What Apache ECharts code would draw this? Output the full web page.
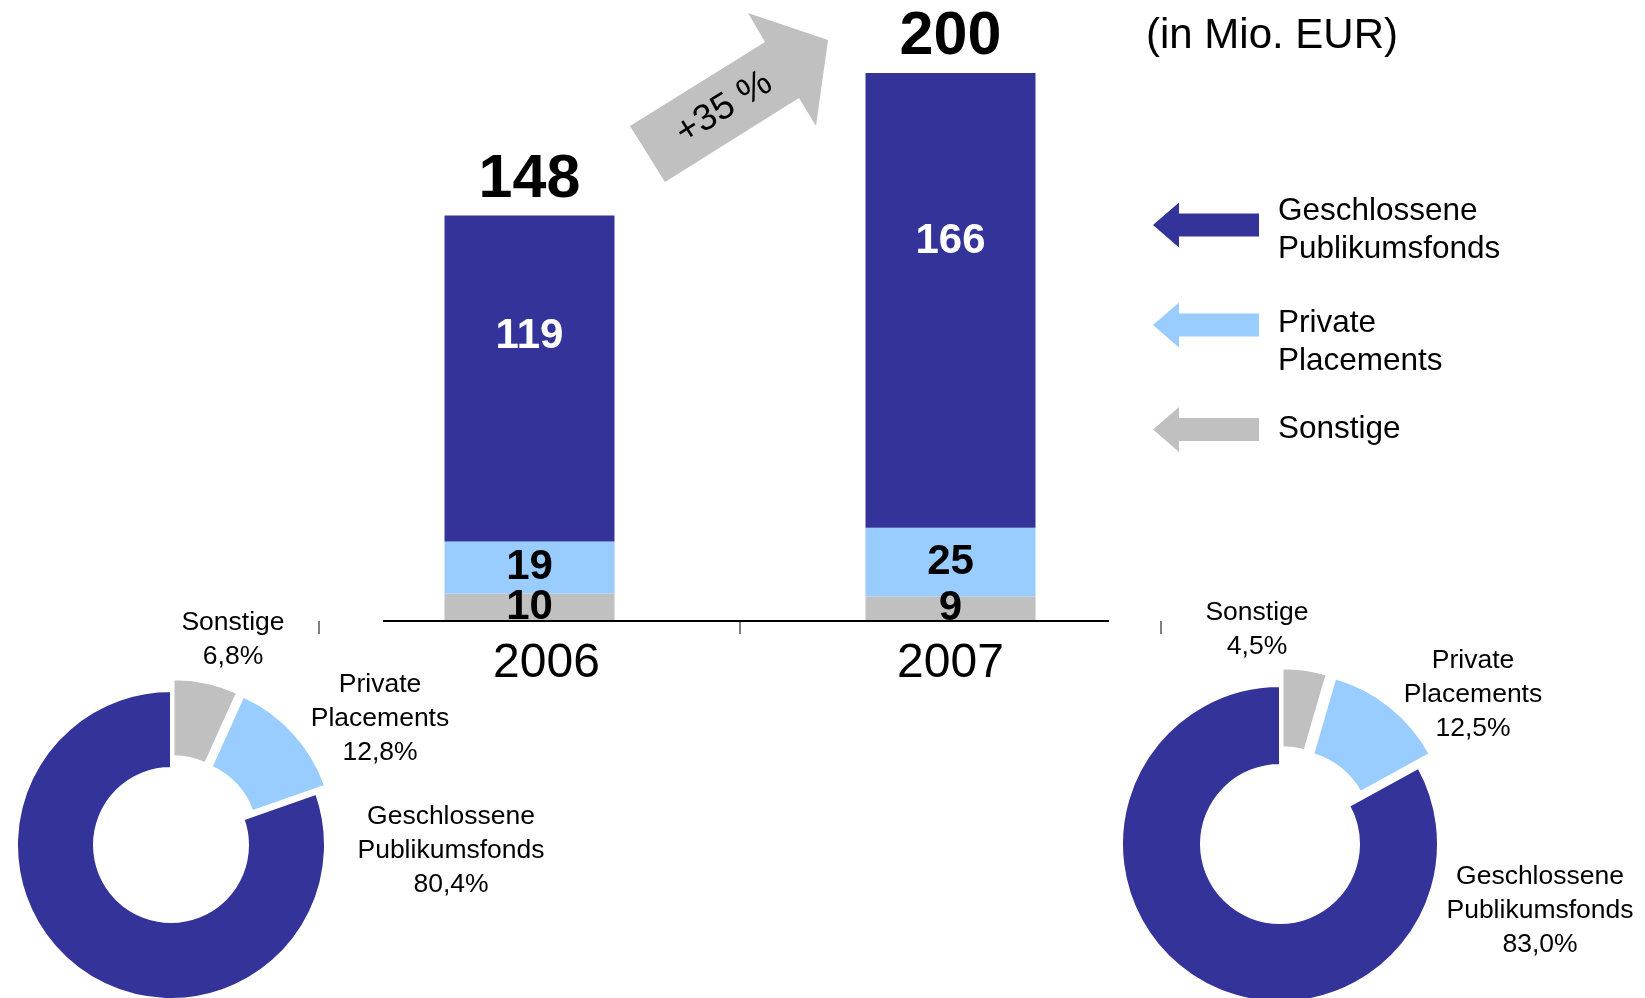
<!DOCTYPE html>
<html>
<head>
<meta charset="utf-8">
<script src="https://cdn.jsdelivr.net/npm/echarts@6/dist/echarts.min.js"></script>
<style>
  html, body { margin: 0; padding: 0; background: #fff; }
  #chart { width: 1645px; height: 998px; }
</style>
</head>
<body>
<div id="chart"></div>
<script>
// data (in Mio. EUR)
var years = ['2006', '2007'];
var names = ['Sonstige', 'Private Placements', 'Geschlossene Publikumsfonds'];
var sonstige = [10, 9];
var privatePlacements = [19, 25];
var geschlossene = [119, 166];

var colors = ['#c0c0c0', '#99ccff', '#333399'];
var font = "'Liberation Sans', Arial, sans-serif";

var totals = years.map(function (y, i) {
    return sonstige[i] + privatePlacements[i] + geschlossene[i];
});

function yearValues(i) {
    return [sonstige[i], privatePlacements[i], geschlossene[i]];
}

function pieData(i) {
    var vals = yearValues(i);
    return names.map(function (n, k) {
        return {
            name: n,
            value: vals[k],
            selected: k < 2,
            itemStyle: {color: colors[k]}
        };
    });
}

// label spots for the donuts (centre of each text block)
var pieLabelPos = [
    [[233, 640], [380, 719], [451, 851]],
    [[1257, 630], [1473, 695], [1540, 911]]
];

function pieLabels(i) {
    var vals = yearValues(i);
    return names.map(function (n, k) {
        var pct = (vals[k] / totals[i] * 100).toFixed(1).replace('.', ',');
        return {
            type: 'text',
            x: pieLabelPos[i][k][0],
            y: pieLabelPos[i][k][1],
            z: 10,
            style: {
                text: n.replace(' ', '\n') + '\n' + pct + '%',
                fontFamily: font,
                fontSize: 26.5,
                lineHeight: 34,
                fill: '#000',
                align: 'center',
                verticalAlign: 'middle'
            }
        };
    });
}

function pieSeries(i, center, radius, offset) {
    return {
        type: 'pie',
        center: center,
        radius: radius,
        startAngle: 90,
        clockwise: true,
        selectedMode: 'multiple',
        selectedOffset: offset,
        itemStyle: {borderColor: '#fff', borderWidth: 2},
        label: {show: false},
        labelLine: {show: false},
        emphasis: {disabled: true},
        data: pieData(i)
    };
}

// shift = how far the two text lines sit below the arrow's middle
function legendFor(name, top, shift) {
    var txt = {fontFamily: font, fontSize: 31.5, color: '#000'};
    return {
        data: [name],
        left: 1153,
        top: top,
        orient: 'vertical',
        padding: 0,
        itemGap: 0,
        itemWidth: 106,
        itemHeight: 45,
        selectedMode: false,
        icon: 'path://M0,22.5 L26,0 L26,11 L106,11 L106,34 L26,34 L26,45 Z',
        formatter: function (n) {
            var parts = n.split(' ');
            if (parts.length < 2) return n;
            return '{a|' + parts[0] + '}\n{b|' + parts[1] + '}';
        },
        textStyle: {
            fontFamily: font,
            fontSize: 31.5,
            lineHeight: 38,
            color: '#000',
            padding: [0, 0, 0, 14],
            rich: {
                a: Object.assign({lineHeight: 38 + 2 * shift}, txt),
                b: Object.assign({lineHeight: 38 - 2 * shift}, txt)
            }
        }
    };
}

var barLabel = {
    show: true,
    position: 'inside',
    fontFamily: font,
    fontSize: 42,
    fontWeight: 'bold',
    color: '#000'
};

var myChart = echarts.init(document.getElementById('chart'));

var option = {
    animation: false,
    backgroundColor: '#fff',
    legend: [
        legendFor(names[2], 187, 5),
        legendFor(names[1], 287, 17),
        legendFor(names[0], 407, 0)
    ],
    grid: {left: 319, right: 484, top: 73, bottom: 377},
    xAxis: {
        type: 'category',
        data: years.map(function (y, i) {
            return i === 0 ? {value: y, textStyle: {padding: [0, 0, 0, 34]}} : y;
        }),
        axisLine: {show: false},
        axisTick: {show: true, length: 13, lineStyle: {color: '#808080', width: 2}},
        axisLabel: {fontFamily: font, fontSize: 48, color: '#000', margin: 19}
    },
    yAxis: {type: 'value', min: 0, max: 200, show: false},
    graphic: [
        {
            type: 'line',
            shape: {x1: 383, y1: 621, x2: 1109, y2: 621},
            style: {stroke: '#000', lineWidth: 2},
            z: 100
        },
        {
            type: 'polygon',
            shape: {points: [[630, 126], [765, 42], [748, 13], [828, 40], [816, 126], [799, 98], [665, 182]]},
            style: {fill: '#c0c0c0'}
        },
        {
            type: 'text',
            x: 724,
            y: 108,
            rotation: 32 * Math.PI / 180,
            style: {
                text: '+35 %',
                fontFamily: font,
                fontSize: 37,
                fill: '#000',
                align: 'center',
                verticalAlign: 'middle'
            }
        },
        {
            type: 'text',
            left: 1146,
            top: 15,
            style: {
                text: '(in Mio. EUR)',
                fontFamily: font,
                fontSize: 42,
                fill: '#000'
            }
        }
    ].concat(pieLabels(0), pieLabels(1)),
    series: [
        {
            name: names[0],
            type: 'bar',
            stack: 'total',
            barWidth: 170,
            itemStyle: {color: colors[0]},
            label: barLabel,
            data: sonstige
        },
        {
            name: names[1],
            type: 'bar',
            stack: 'total',
            barWidth: 170,
            itemStyle: {color: colors[1]},
            label: barLabel,
            data: privatePlacements
        },
        {
            name: names[2],
            type: 'bar',
            stack: 'total',
            barWidth: 170,
            itemStyle: {color: colors[2]},
            label: {
                show: true,
                position: ['50%', '37%'],
                align: 'center',
                verticalAlign: 'middle',
                fontFamily: font,
                fontSize: 42,
                fontWeight: 'bold',
                color: '#fff'
            },
            data: geschlossene
        },
        {
            // totals on top of the bars
            type: 'scatter',
            symbolSize: 0,
            itemStyle: {color: '#000', opacity: 1},
            label: {
                show: true,
                position: 'top',
                distance: 5,
                fontFamily: font,
                fontSize: 61,
                fontWeight: 'bold',
                color: '#000'
            },
            emphasis: {disabled: true},
            data: totals
        },
        pieSeries(0, [171, 845], [77, 154], 12),
        pieSeries(1, [1280, 844], [79, 158], 18)
    ]
};

// 绘制图表
myChart.setOption(option);
</script>
</body>
</html>
